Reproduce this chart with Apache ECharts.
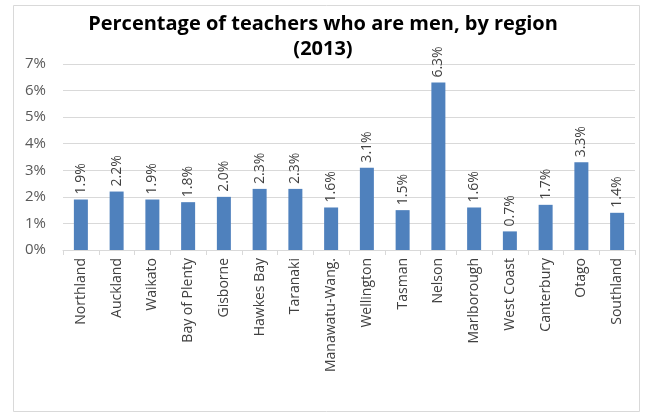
<!DOCTYPE html>
<html>
<head>
<meta charset="utf-8">
<script src="https://cdn.jsdelivr.net/npm/echarts@6/dist/echarts.min.js"></script>
<style>html,body{margin:0;padding:0;background:#fff}#c{width:646px;height:418px}</style>
</head>
<body>
<div id="c"></div>
<script>
const categories = ["Northland","Auckland","Waikato","Bay of Plenty","Gisborne","Hawkes Bay","Taranaki","Manawatu-Wang.","Wellington","Tasman","Nelson","Marlborough","West Coast","Canterbury","Otago","Southland"];
const values = [1.9,2.2,1.9,1.8,2.0,2.3,2.3,1.6,3.1,1.5,6.3,1.6,0.7,1.7,3.3,1.4];
const yTicks = [0,1,2,3,4,5,6,7];
const titleText = "Percentage of teachers who are men, by region\n(2013)";

const chart = echarts.init(document.getElementById('c'), null, {renderer:'canvas'});
const font = "'Open Sans', 'Noto Sans', sans-serif";
chart.setOption({
  animation:false,
  backgroundColor:'#fff',
  graphic:[{type:'rect', shape:{x:13.5,y:5.5,width:626,height:406}, style:{fill:'none', stroke:'#d9d9d9', lineWidth:1}, silent:true}],
  title:{text:titleText, left:'center', top:7, textStyle:{fontFamily:font, fontSize:20, fontWeight:'bold', color:'#000', lineHeight:25}},
  grid:{left:63, right:11, top:64, bottom:168, containLabel:false},
  xAxis:{type:'category', data:categories,
    axisLine:{lineStyle:{color:'#d9d9d9'}},
    axisTick:{show:true, length:5, lineStyle:{color:'#d9d9d9'}},
    axisLabel:{rotate:90, interval:0, fontFamily:font, fontSize:14, color:'#404040', margin:8}},
  yAxis:{type:'value', min:yTicks[0], max:yTicks[yTicks.length-1], interval:1,
    axisLine:{show:false}, axisTick:{show:false},
    splitLine:{lineStyle:{color:'#d9d9d9'}},
    axisLabel:{formatter:'{value}%', fontFamily:font, fontSize:15, color:'#595959', margin:17}},
  series:[{type:'bar', data:values, barWidth:14, itemStyle:{color:'#4f81bd'},
    label:{show:true, position:'top', rotate:90, align:'left', verticalAlign:'middle', distance:5,
      formatter:p=>p.value.toFixed(1)+'%', fontFamily:font, fontSize:14, color:'#404040'}}]
});
</script>
</body>
</html>
